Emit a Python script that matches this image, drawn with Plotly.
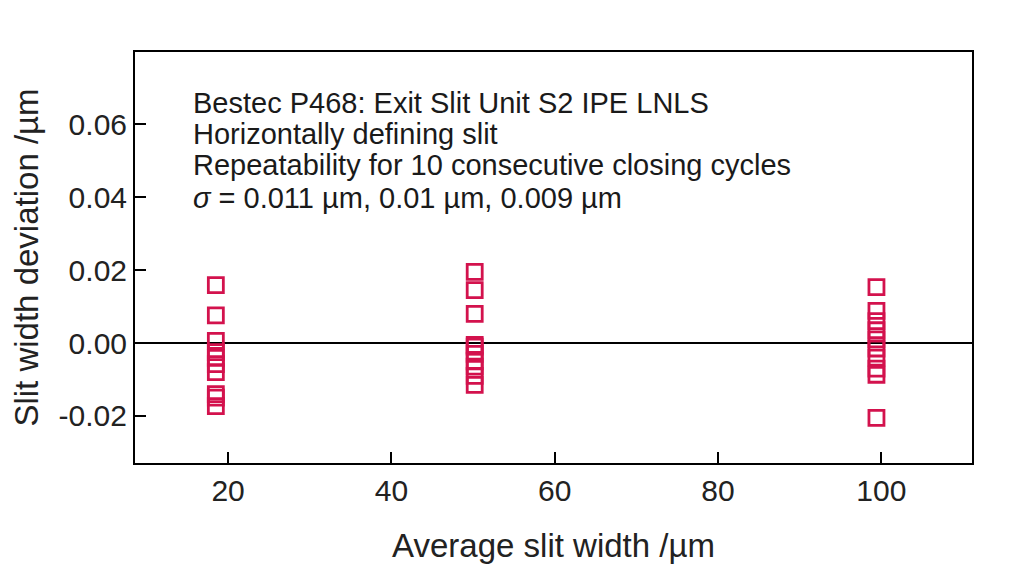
import plotly.graph_objects as go

# ---- data ----
slit_widths = [18.5, 50.2, 99.4]
dev_18 = [0.0159, 0.0076, 0.0006, -0.0025, -0.0041, -0.0058, -0.0080, -0.0140, -0.0150, -0.0173]
dev_50 = [0.0195, 0.0145, 0.0080, -0.0005, -0.0010, -0.0030, -0.0050, -0.0065, -0.0090, -0.0115]
dev_100 = [0.0153, 0.0088, 0.0060, 0.0035, 0.0010, -0.0015, -0.0040, -0.0070, -0.0087, -0.0205]

x_tickvals = [20, 40, 60, 80, 100]
x_ticktext = ["20", "40", "60", "80", "100"]
y_tickvals = [-0.02, 0.0, 0.02, 0.04, 0.06]
y_ticktext = ["-0.02", "0.00", "0.02", "0.04", "0.06"]

info_lines = [
    "Bestec P468: Exit Slit Unit S2 IPE LNLS",
    "Horizontally defining slit",
    "Repeatability for 10 consecutive closing cycles",
    "<i>σ</i> = 0.011 µm, 0.01 µm, 0.009 µm",
]

x_title = "Average slit width /µm"
y_title = "Slit width deviation /µm"

# ---- figure ----
FONT = "Liberation Sans, Arial, sans-serif"
RED = "#D3124D"
TXT = "#222222"

xs, ys = [], []
for w, devs in zip(slit_widths, [dev_18, dev_50, dev_100]):
    xs += [w] * len(devs)
    ys += devs

fig = go.Figure()
fig.add_trace(go.Scatter(
    x=xs, y=ys, mode="markers",
    marker=dict(symbol="square-open", size=15, color=RED, line=dict(width=2.8, color=RED)),
    showlegend=False, hoverinfo="x+y",
))

# page body has an 8px margin, so the plot margins are shifted to compensate
fig.update_layout(
    width=1024, height=566,
    margin=dict(l=125, r=60, t=44, b=111),
    paper_bgcolor="white", plot_bgcolor="white",
    font=dict(family=FONT, color=TXT),
    xaxis=dict(
        range=[8.6, 111.1], tickvals=x_tickvals, ticktext=x_ticktext,
        ticks="inside", ticklen=11, tickwidth=1.5, tickcolor="black",
        showline=True, linecolor="black", linewidth=2, mirror=True,
        showgrid=False, zeroline=False,
        tickfont=dict(size=30, family=FONT, color=TXT),
        title=dict(text=x_title, font=dict(size=33, family=FONT, color=TXT), standoff=28),
    ),
    yaxis=dict(
        range=[-0.0329, 0.0798], tickvals=y_tickvals, ticktext=y_ticktext,
        ticks="inside", ticklen=11, tickwidth=1.5, tickcolor="black",
        showline=True, linecolor="black", linewidth=2, mirror=True,
        showgrid=False, zeroline=True, zerolinecolor="black", zerolinewidth=2,
        tickfont=dict(size=30, family=FONT, color=TXT),
        title=dict(text=y_title, font=dict(size=33, family=FONT, color=TXT), standoff=16),
    ),
)

line_y = [0.876, 0.801, 0.726, 0.644]
for txt, yy in zip(info_lines, line_y):
    fig.add_annotation(
        text=txt, xref="paper", yref="paper", x=0.0665, y=yy,
        xanchor="left", yanchor="middle", showarrow=False,
        font=dict(size=29, family=FONT, color="#1a1a1a"),
    )

fig.write_html("out.html")
